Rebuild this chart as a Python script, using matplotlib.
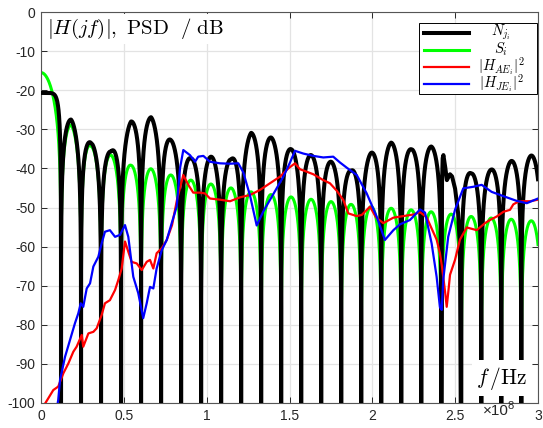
import numpy as np
import matplotlib
matplotlib.use('Agg')
import matplotlib.pyplot as plt
from matplotlib.patches import Rectangle
from matplotlib.lines import Line2D

# ---------------- data (frequency in units of 1e8 Hz, levels in dB) ----------------
null_spacing = 0.1208          # spacing of spectral nulls
black_main = -20.7             # N_ji main-lobe level
black_peaks = [-27.5, -33.5, -35.7, -28.0, -26.9, -32.8, -37.5, -37.0, -37.7, -30.9,
               -32.1, -35.1, -36.6, -38.3, -40.6, -36.0, -33.4, -35.1, -34.4, -36.5,
               -41.3, -40.3, -38.1, -36.7]
# irregular (notched) 20th lobe of N_ji, read point by point
black_lobe20_f = [2.420, 2.424, 2.429, 2.438, 2.450, 2.459, 2.469, 2.481, 2.499, 2.517, 2.529]
black_lobe20_db = [-45.0, -37.5, -36.6, -39.0, -43.0, -42.2, -41.5, -42.0, -45.0, -51.0, -60.0]
green_main = -15.5             # S_i main-lobe level
green_peaks = [-28.9, -34.3, -36.6, -39.2, -40.1, -41.7, -43.0, -44.0, -45.0, -46.0,
               -46.7, -47.3, -47.9, -48.5, -49.2, -49.8, -50.2, -50.6, -51.1, -51.7,
               -52.3, -52.7, -53.0, -53.4]

red_f = [0.012, 0.044, 0.074, 0.104, 0.135, 0.165, 0.195, 0.215, 0.246, 0.255, 0.286,
         0.316, 0.336, 0.366, 0.386, 0.416, 0.447, 0.467, 0.487, 0.507, 0.527, 0.547,
         0.578, 0.608, 0.638, 0.658, 0.678, 0.698, 0.729, 0.759, 0.791, 0.821, 0.859,
         0.889, 0.919, 0.960, 0.990, 1.020, 1.080, 1.141, 1.201, 1.262, 1.322, 1.382,
         1.443, 1.493, 1.533, 1.563, 1.644, 1.704, 1.744, 1.785, 1.825, 1.855, 1.906,
         1.936, 1.986, 2.022, 2.066, 2.127, 2.187, 2.247, 2.288, 2.328, 2.354, 2.388,
         2.408, 2.420, 2.439, 2.449, 2.460, 2.469, 2.499, 2.529, 2.570, 2.630, 2.680,
         2.710, 2.751, 2.791, 2.831, 2.851, 2.881, 2.911, 2.952, 3.000]
red_db = [-101, -98.8, -96.7, -95.8, -92.4, -89.9, -86.9, -85.6, -82.6, -85.6, -82.2,
          -81.8, -80.9, -77.5, -74.5, -73.7, -71.1, -68.5, -65.6, -58.7, -61.3, -63.9,
          -64.3, -66.0, -63.9, -63.4, -65.6, -61.7, -60.4, -58.3, -54.5, -48.0, -41.7,
          -44.2, -46.2, -46.2, -46.4, -47.7, -48.0, -48.4, -47.4, -46.8, -45.5, -43.8,
          -42.1, -40.0, -38.7, -40.2, -41.5, -43.0, -43.8, -45.7, -48.1, -51.5, -52.2,
          -51.9, -49.8, -52.5, -54.0, -52.6, -52.2, -51.8, -51.2, -52.5, -55.0, -58.2,
          -61.7, -65.0, -71.5, -75.4, -71.0, -67.2, -63.4, -58.2, -55.1, -55.8, -54.0,
          -53.2, -52.3, -51.1, -50.6, -49.2, -48.5, -48.4, -48.4, -48.0]

blue_f = [0.097, 0.104, 0.115, 0.145, 0.175, 0.205, 0.225, 0.240, 0.255, 0.276, 0.296,
          0.316, 0.346, 0.366, 0.386, 0.416, 0.447, 0.477, 0.507, 0.527, 0.557, 0.587,
          0.617, 0.638, 0.658, 0.678, 0.698, 0.729, 0.759, 0.789, 0.819, 0.839, 0.859,
          0.899, 0.930, 0.949, 0.980, 1.020, 1.080, 1.141, 1.191, 1.221, 1.262, 1.302,
          1.342, 1.402, 1.463, 1.503, 1.533, 1.583, 1.644, 1.704, 1.764, 1.805, 1.845,
          1.906, 1.966, 2.026, 2.076, 2.127, 2.167, 2.227, 2.288, 2.318, 2.358, 2.388,
          2.408, 2.419, 2.428, 2.458, 2.499, 2.549, 2.610, 2.660, 2.720, 2.791, 2.871,
          2.932, 3.000]
blue_db = [-101, -99.2, -94.1, -88.2, -83.9, -79.6, -77.1, -74.5, -75.4, -70.7, -69.4,
           -65.1, -62.6, -59.2, -56.2, -55.8, -57.5, -57.0, -54.5, -57.5, -67.7, -71.9,
           -78.3, -74.5, -70.3, -70.7, -65.6, -60.9, -58.3, -54.0, -49.8, -40.0, -35.3,
           -36.6, -38.3, -37.0, -36.8, -38.3, -38.7, -38.8, -38.7, -41.0, -47.0, -54.6,
           -51.0, -46.6, -42.1, -38.5, -35.5, -36.2, -36.8, -37.2, -37.0, -38.5, -39.8,
           -41.7, -46.4, -52.3, -58.3, -55.8, -54.3, -53.2, -50.5, -51.3, -59.2, -67.7,
           -75.5, -76.2, -68.5, -57.5, -50.6, -45.1, -44.7, -44.2, -46.0, -47.1, -48.3,
           -48.9, -47.7]

x_ticks = [0, 0.5, 1, 1.5, 2, 2.5, 3]
x_ticklabels = ['0', '0.5', '1', '1.5', '2', '2.5', '3']
y_ticks = list(range(-100, 1, 10))
legend_labels = [r'$N_{j_i}$', r'$S_i$', r'$|H_{AE_i}|^2$', r'$|H_{JE_i}|^2$']
series_colors = ['black', '#00ff00', '#ff0000', '#0000ff']
series_widths = [2.9, 2.2, 1.6, 1.6]

# ---------------- build lobed spectra ----------------
f = np.linspace(0, 3, 20001)
nulls = np.arange(1, 25) * null_spacing
f = np.unique(np.concatenate([f, nulls, black_lobe20_f]))
x = f / null_spacing
centers = np.arange(1, 25) + 0.5
with np.errstate(divide='ignore', invalid='ignore'):
    arch = 20 * np.log10(np.abs(np.sin(np.pi * x)))
    bl = np.interp(x, centers, black_peaks) + arch
    gr = np.interp(x, centers, green_peaks) + arch
    main = x < 1
    bl[main] = black_main + 20 * np.log10(np.cos(np.pi / 2 * x[main] ** 4))
    xm = np.maximum(x[main], 1e-9)
    gr[main] = green_main + 20 * np.log10(np.abs(np.sin(np.pi * xm) / (np.pi * xm)))
bl = np.clip(np.nan_to_num(bl, neginf=-130), -130, 10)
gr = np.clip(np.nan_to_num(gr, neginf=-130), -130, 10)
# notched lobe 20
lobe20 = (f > nulls[19]) & (f < nulls[20])
bl[lobe20] = np.interp(f[lobe20], [nulls[19]] + black_lobe20_f + [nulls[20]],
                       [-130] + black_lobe20_db + [-130])

# ---------------- plotting ----------------
plt.rcParams['mathtext.fontset'] = 'cm'
plt.rcParams['axes.unicode_minus'] = False
plt.rcParams['font.family'] = ['Liberation Sans', 'DejaVu Sans']

fig = plt.figure(figsize=(5.43, 4.28), dpi=100)
ax = fig.add_axes([41 / 543, 25 / 428, 497 / 543, 391 / 428])

ax.plot(f, gr, color=series_colors[1], lw=series_widths[1], zorder=2)
ax.plot(f, bl, color=series_colors[0], lw=series_widths[0], zorder=3)
ax.plot(red_f, red_db, color=series_colors[2], lw=series_widths[2], zorder=4)
ax.plot(blue_f, blue_db, color=series_colors[3], lw=series_widths[3], zorder=5)

ax.set_xlim(0, 3)
ax.set_ylim(-100, 0)
ax.set_xticks(x_ticks)
ax.set_xticklabels(x_ticklabels)
ax.set_yticks(y_ticks)
ax.set_yticklabels([str(v) for v in y_ticks])
ax.grid(True, color='#e3e3e3', lw=0.9)
ax.set_axisbelow(True)
ax.tick_params(direction='in', length=4, width=0.7, top=True, right=True,
               labelsize=10, colors='#262626', pad=4)
for s in ax.spines.values():
    s.set_color('#555555')
    s.set_linewidth(0.8)


def axfrac(px, py):
    return (px - 41) / 497, 1 - (py - 12) / 391


# manual legend (MATLAB style: centred labels)
x0, y0 = axfrac(419, 94.3)
x1, y1 = axfrac(537, 22.7)
ax.add_patch(Rectangle((x0, y0), x1 - x0, y1 - y0, transform=ax.transAxes,
                       facecolor='white', edgecolor='black', lw=0.7, zorder=10))
for i, lab in enumerate(legend_labels):
    row_y = 32.5 + 17.2 * i
    lx0, ly = axfrac(424, row_y)
    lx1, _ = axfrac(469, row_y)
    ax.add_line(Line2D([lx0, lx1], [ly, ly], transform=ax.transAxes,
                       color=series_colors[i], lw=series_widths[i], zorder=11))
    tx, _ = axfrac(501, row_y)
    ax.text(tx, ly, lab, transform=ax.transAxes, fontsize=10.5, ha='center',
            va='center', zorder=12)

tx, ty = axfrac(47, 29)
ax.text(tx, ty, r'$|H(jf)|,\ \mathrm{PSD}\ \ /\ \mathrm{dB}$', transform=ax.transAxes,
        fontsize=15, va='center', ha='left', zorder=9,
        bbox=dict(facecolor='white', edgecolor='none', pad=2))
tx, ty = axfrac(502, 378)
ax.text(tx, ty, r'$f\,/\mathrm{Hz}$', transform=ax.transAxes,
        fontsize=15.5, va='center', ha='center', zorder=9,
        bbox=dict(facecolor='white', edgecolor='none', pad=3))

# exponent label like MATLAB
ax.text(2.665, -102.1, '\u00d710', fontsize=11, color='#262626', va='center',
        ha='left', clip_on=False)
ax.text(2.818, -100.8, '8', fontsize=8, color='#262626', va='center', ha='left',
        clip_on=False)

fig.savefig('out.png', dpi=100)
